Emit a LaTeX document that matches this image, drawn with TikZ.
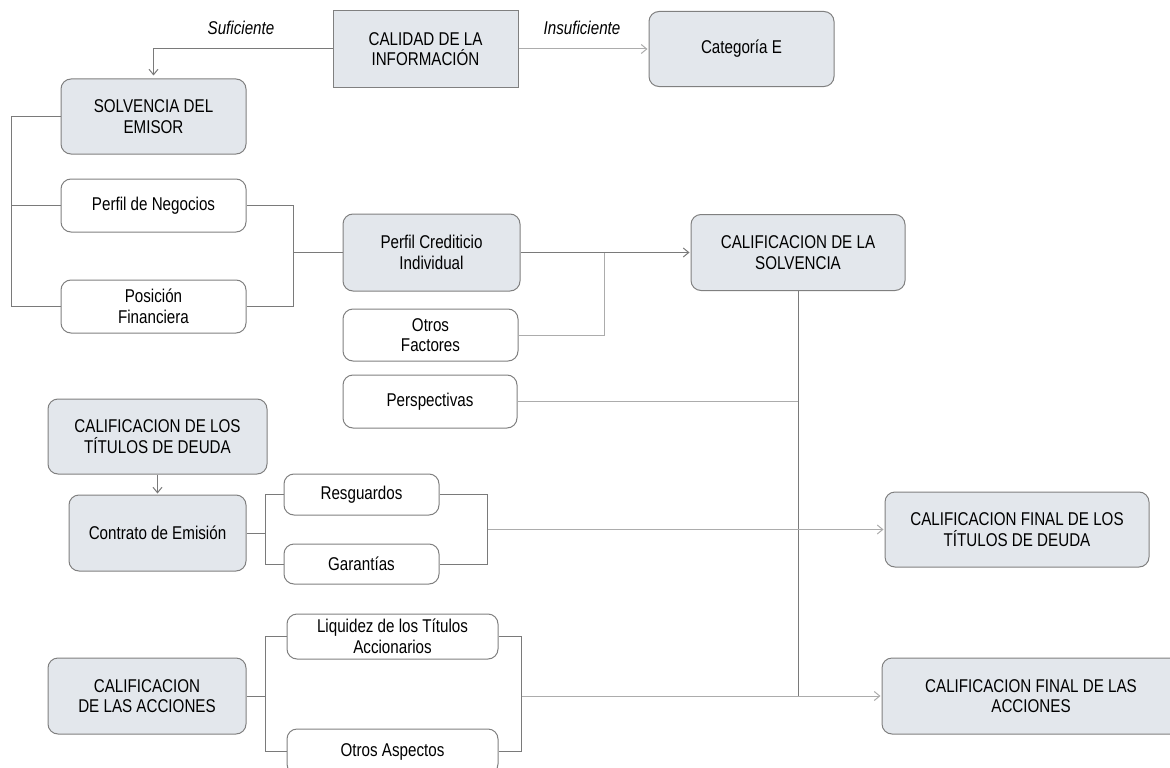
\documentclass[tikz,border=0pt]{standalone}
\usepackage{fontspec}
\setmainfont{Liberation Sans}[FakeStretch=0.82]
\usetikzlibrary{arrows.meta,positioning}

\definecolor{boxfill}{RGB}{227,231,236}
\definecolor{boxline}{RGB}{128,128,128}
\definecolor{lined}{RGB}{122,122,122}
\definecolor{linel}{RGB}{172,172,172}

\begin{document}
\begin{tikzpicture}[
  x=1pt, y=-1pt, font=\fontsize{18.5}{20.5}\selectfont,
  % STYLES
  every node/.style={inner sep=0pt, align=center},
  % OWNs
  gnode/.style={rounded corners=10pt, draw=boxline, fill=boxfill, line width=1pt},
  wnode/.style={rounded corners=10pt, draw=boxline, fill=white, line width=1pt},
  rnode/.style={draw=boxline, fill=boxfill, line width=1pt},
  lbl/.style={font=\fontsize{18.5}{20.5}\selectfont\itshape},
  ln/.style={draw=lined, line width=1pt},
  lnl/.style={draw=linel, line width=1pt},
  arr/.style={-{Straight Barb[length=5.5pt,width=9pt]}, shorten >=1pt}]

  \clip (0,0) rectangle (1170,768);

  % calidad de la informacion
  \node[rnode, minimum width=185pt, minimum height=76pt] (calidad) at (425.5,49) {CALIDAD DE LA\\INFORMACIÓN};
  \node[gnode, minimum width=185pt, minimum height=75pt] [right=130pt of calidad](categoria) {Categoría E};
  \node[lbl] (suf) at (241,28) {Suficiente};
  \node[lbl] (insuf) at (582,28) {Insuficiente};

  % solvencia del emisor
  \node[gnode, minimum width=185pt, minimum height=75pt] (emisor) at (153.5,116.5) {SOLVENCIA DEL\\EMISOR};
  \node[wnode, minimum width=185pt, minimum height=53pt] [below=24pt of emisor](negocios) {Perfil de Negocios};
  \node[wnode, minimum width=185pt, minimum height=53pt] [below=47pt of negocios](posicion) {Posición\\Financiera};

  \node[gnode, minimum width=177pt, minimum height=77pt] (crediticio) at (431.5,252.5) {Perfil Crediticio\\Individual};
  \node[wnode, minimum width=175pt, minimum height=52pt] [below=17pt of crediticio.south west, anchor=north west](otrosf) {Otros\\Factores};
  \node[wnode, minimum width=174pt, minimum height=53pt] [below=13pt of otrosf.south west, anchor=north west](perspectivas) {Perspectivas};
  \node[gnode, minimum width=214pt, minimum height=76pt] [right=170pt of crediticio](solvencia) {CALIFICACION DE LA\\SOLVENCIA};

  % titulos de deuda
  \node[gnode, minimum width=219pt, minimum height=75pt] (titulos) at (157.5,436.5) {CALIFICACION DE LOS\\TÍTULOS DE DEUDA};
  \node[gnode, minimum width=177pt, minimum height=76pt] [below=20pt of titulos](contrato) {Contrato de Emisión};
  \node[wnode, minimum width=155pt, minimum height=41pt] (resguardos) at (361.5,494.5) {Resguardos};
  \node[wnode, minimum width=155pt, minimum height=40pt] [below=28pt of resguardos](garantias) {Garantías};
  \node[gnode, minimum width=264pt, minimum height=75pt] (finaltit) at (1017,529.5) {CALIFICACION FINAL DE LOS\\TÍTULOS DE DEUDA};

  % acciones
  \node[gnode, minimum width=198pt, minimum height=76pt] (acciones) at (147,696) {CALIFICACION\\DE LAS ACCIONES};
  \node[wnode, minimum width=211pt, minimum height=45pt] (liquidez) at (392.5,636.5) {Liquidez de los Títulos\\Accionarios};
  \node[wnode, minimum width=211pt, minimum height=45pt] [below=69pt of liquidez](otrosa) {Otros Aspectos};
  \node[gnode, minimum width=298pt, minimum height=76pt] [right=635pt of acciones](finalacc) {CALIFICACION FINAL DE LAS\\ACCIONES};

  \coordinate (bl) at ([xshift=-49pt]emisor.west);
  \coordinate (br) at ([xshift=47pt]negocios.east);
  \coordinate (jo) at ([xshift=84pt]crediticio.east);
  \coordinate (bk) at ([xshift=19pt]contrato.east);
  \coordinate (bk2) at ([xshift=48pt]resguardos.east);
  \coordinate (ba) at ([xshift=19pt]acciones.east);
  \coordinate (ba2) at ([xshift=23pt]liquidez.east);

  \draw[ln, arr, shorten >=3pt] (calidad.west) -| (emisor.north);
  \draw[lnl, arr] (calidad.east) -- (categoria.west);

  \draw[ln] (emisor.west) -- (bl) |- (posicion.west);
  \draw[ln] (negocios.west) -- (negocios.west -| bl);
  \draw[ln] (negocios.east) -- (br) |- (posicion.east);
  \draw[ln] (br |- crediticio.west) -- (crediticio.west);

  \draw[ln, arr] (crediticio.east) -- (solvencia.west);
  \draw[lnl] (otrosf.east) -| (jo);
  \draw[ln] (solvencia.south) -- (solvencia.south |- finalacc.west);
  \draw[lnl] (perspectivas.east) -- (perspectivas.east -| solvencia.south);

  \draw[ln, arr] (titulos.south) -- (contrato.north);
  \draw[ln] (contrato.east) -- (bk);
  \draw[ln] (resguardos.west) -| (bk) |- (garantias.west);
  \draw[ln] (resguardos.east) -- (bk2) |- (garantias.east);
  \draw[lnl, arr] (bk2 |- finaltit.west) -- (finaltit.west);

  \draw[ln] (acciones.east) -- (ba);
  \draw[ln] (liquidez.west) -| (ba) |- (otrosa.west);
  \draw[ln] (liquidez.east) -- (ba2) |- (otrosa.east);
  \draw[lnl, arr] (ba2 |- finalacc.west) -- (finalacc.west);
\end{tikzpicture}
\end{document}
